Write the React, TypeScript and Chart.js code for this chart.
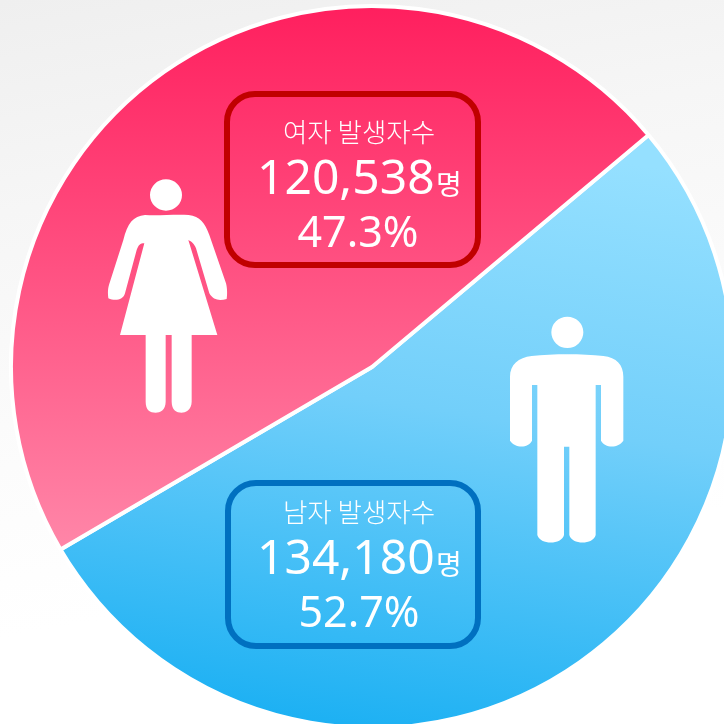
import React, { useEffect, useRef } from "react";
import { Chart, registerables } from "chart.js";

Chart.register(...registerables);

const categories = ["남자", "여자"];
const counts = [134180, 120538];
const shares = ["52.7%", "47.3%"];
const titles = ["남자 발생자수", "여자 발생자수"];

const CJK = '"Noto Sans CJK KR"';
const NUM = '"Noto Sans"';

const overlayPlugin = {
  id: "overlay",
  afterDatasetsDraw(chart: any) {
    const ctx = chart.ctx;
    const shape = (ox: number, oy: number, pts: string, color = "#fff") => {
      ctx.save();
      ctx.translate(ox, oy);
      ctx.scale(1 / 3, 1 / 3);
      ctx.fillStyle = color;
      ctx.fill(new Path2D(pts));
      ctx.restore();
    };
    // female icon
    shape(
      90,
      80,
      "M180 345a48 47 0 1 0 96 0a48 47 0 1 0 -96 0Z" +
        "M165 405C205 408 255 402 296 405C330 408 345 430 358 465L408 610C412 625 412 645 410 657C390 662 370 662 358 640L318 505C312 490 305 485 295 480L382 765L305 765L305 965C305 990 285 998 275 998C260 998 245 990 245 965L245 765L227 765L227 965C227 990 210 998 197 998C180 998 167 990 167 965L167 765L90 765L163 490C150 490 146 495 140 510L105 640C100 660 75 664 55 655C52 630 55 620 60 605L100 480C112 430 130 408 165 405Z"
    );
    // male icon
    shape(
      210,
      310,
      "M1024 67a48 47 0 1 0 96 0a48 47 0 1 0 -96 0Z" +
        "M965 138C1030 131 1115 131 1180 138C1220 142 1240 165 1240 200L1240 392C1225 415 1185 415 1173 392L1173 225L1157 225L1157 675C1150 705 1085 705 1078 675L1078 410L1062 410L1062 675C1055 705 990 705 982 675L982 225L966 225L966 392C955 415 915 415 900 392L900 200C900 165 925 142 965 138Z"
    );

    const box = (x: number, y: number, w: number, h: number, stroke: string) => {
      ctx.save();
      ctx.beginPath();
      ctx.roundRect(x, y, w, h, 28);
      ctx.lineWidth = 6;
      ctx.strokeStyle = stroke;
      ctx.stroke();
      ctx.restore();
    };
    box(227, 94, 251, 171, "#c00000");
    box(228, 483, 250, 163, "#0070c0");

    const text = (s: string, x: number, y: number, font: string, align: string) => {
      ctx.save();
      ctx.font = font;
      ctx.fillStyle = "#fff";
      ctx.textAlign = align;
      ctx.textBaseline = "alphabetic";
      ctx.fillText(s, x, y);
      ctx.restore();
    };
    const fmt = (n: number) => n.toLocaleString("en-US");
    const block = (i: number, titleY: number, numY: number, pctY: number, pctX: number) => {
      text(titles[i], 359, titleY, `300 26.5px ${CJK}`, "center");
      text(fmt(counts[i]), 257, numY, `400 48px ${NUM}`, "left");
      text("명", 436, numY + 1, `400 28px ${CJK}`, "left");
      text(shares[i], pctX, pctY, `400 43px ${NUM}`, "center");
    };
    block(1, 142, 194, 247, 358);
    block(0, 522, 574, 627, 359);
  },
};

export default function App() {
  const ref = useRef<HTMLCanvasElement>(null);
  useEffect(() => {
    const canvas = ref.current!;
    const ctx = canvas.getContext("2d")!;
    const blue = ctx.createLinearGradient(420, 130, 325, 730);
    blue.addColorStop(0, "#95e0ff");
    blue.addColorStop(0.45, "#72cffa");
    blue.addColorStop(1, "#1bb0f3");
    const pink = ctx.createLinearGradient(372, 6, 372, 548);
    pink.addColorStop(0, "#ff1f5e");
    pink.addColorStop(1, "#ff86a8");
    const chart = new Chart(canvas, {
      type: "doughnut",
      data: {
        labels: categories,
        datasets: [
          {
            data: counts,
            backgroundColor: [blue, pink],
            borderColor: "#ffffff",
            borderWidth: 4,
          },
        ],
      },
      options: {
        responsive: false,
        animation: false,
        cutout: 0,
        radius: 361,
        rotation: 50,
        layout: { padding: 0 },
        plugins: { legend: { display: false }, tooltip: { enabled: false } },
      },
      plugins: [overlayPlugin],
    });
    return () => chart.destroy();
  }, []);
  return (
    <div
      style={{
        position: "fixed",
        left: 0,
        top: 0,
        width: 724,
        height: 724,
        overflow: "hidden",
        background: "linear-gradient(170deg, #efefef 0%, #f6f6f6 25%, #fcfcfc 55%, #ffffff 75%)",
      }}
    >
      <canvas ref={ref} width={744} height={734} style={{ position: "absolute", left: 0, top: 0 }} />
    </div>
  );
}
